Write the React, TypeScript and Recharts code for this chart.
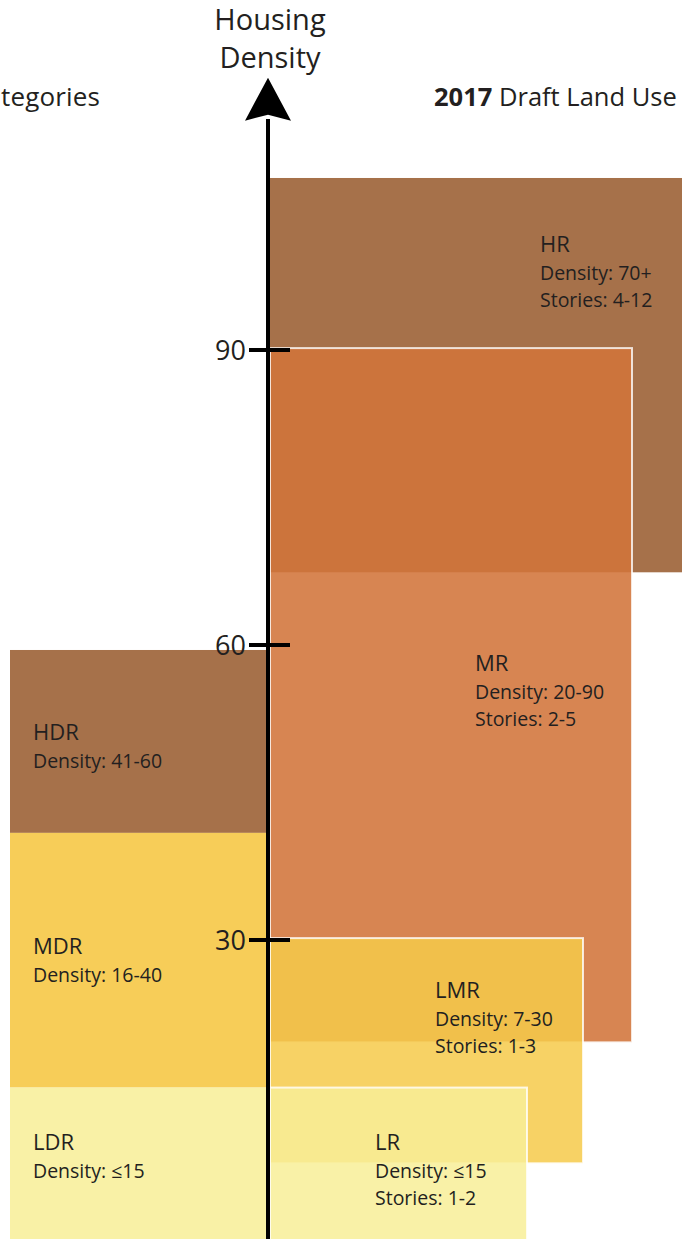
import React from 'react';
import { ComposedChart, XAxis, YAxis, ReferenceArea, ReferenceLine, ReferenceDot } from 'recharts';

// existing categories (left of the axis), density in units/acre
const existingCodes = ['HDR', 'MDR', 'LDR'];
const existingLow = [40.9, 15, -1];
const existingHigh = [59.5, 40.9, 15];
const existingDensity = ['41-60', '16-40', '≤15'];
const existingLeft = -25.8;

// 2017 draft land use categories (right of the axis)
const draftCodes = ['HR', 'MR', 'LMR', 'LR'];
const draftLow = [67.4, 19.6, 7.3, -1];
const draftHigh = [107.5, 90.2, 30.2, 15];
const draftRight = [45, 36.4, 31.5, 25.9];
const draftDensity = ['70+', '20-90', '7-30', '≤15'];
const draftStories = ['4-12', '2-5', '1-3', '1-2'];

const densityTicks = [30, 60, 90];

const FONT = '"Open Sans", sans-serif';
const INK = '#231F20';

const fills: Record<string, string> = {
  HDR: '#A6714A',
  MDR: '#F7CD58',
  LDR: '#F9F1A6',
  HR: '#A6714A',
  MR: '#D1743A',
  LMR: '#F6CA4A',
  LR: '#F8EE98',
};
const opacities: Record<string, number> = { MR: 0.88, LMR: 0.85, LR: 0.85 };
const outlined = ['MR', 'LMR', 'LR'];
// label offset from each block's top-left corner (px)
const labelAt: Record<string, [number, number]> = {
  HDR: [23, 90],
  MDR: [23, 121],
  LDR: [23, 62],
  HR: [270, 74],
  MR: [205, 323],
  LMR: [165, 60],
  LR: [105, 62],
};

const blockShape = (code: string, lines: string[]) => (p: any) => {
  const [dx, dy] = labelAt[code];
  const lx = p.x + dx;
  return (
    <g>
      <rect
        x={p.x}
        y={p.y}
        width={p.width}
        height={p.height}
        fill={fills[code]}
        fillOpacity={opacities[code] ?? 1}
        stroke={outlined.includes(code) ? '#fff' : 'none'}
        strokeWidth={2}
        strokeOpacity={0.8}
      />
      <text x={lx} y={p.y + dy} fontFamily={FONT} fill={INK}>
        <tspan fontSize={22}>{code}</tspan>
        {lines.map((l, i) => (
          <tspan key={l} x={lx} dy={i === 0 ? 28 : 27} fontSize={19.5}>
            {l}
          </tspan>
        ))}
      </text>
    </g>
  );
};

const arrowHead = (p: any) => (
  <path
    d={`M${p.cx},${p.cy - 2} L${p.cx + 23},${p.cy + 41} L${p.cx},${p.cy + 35} L${p.cx - 23},${p.cy + 41} Z`}
    fill="#000"
  />
);

export default function App() {
  return (
    <div style={{ position: 'absolute', left: 0, top: 0, width: 682, height: 1239, overflow: 'hidden', background: '#fff' }}>
      <ComposedChart width={682} height={1239} margin={{ top: 0, right: 0, bottom: 0, left: 0 }} data={[{ x: 0, y: 0 }]}>
        <XAxis type="number" dataKey="x" domain={[-26.8, 41.4]} allowDataOverflow hide />
        <YAxis type="number" dataKey="y" domain={[-0.4, 125.6]} allowDataOverflow hide />

        {existingCodes.map((code, i) => (
          <ReferenceArea
            key={code}
            x1={existingLeft}
            x2={0}
            y1={existingLow[i]}
            y2={existingHigh[i]}
            ifOverflow="hidden"
            shape={blockShape(code, [`Density: ${existingDensity[i]}`])}
          />
        ))}
        {draftCodes.map((code, i) => (
          <ReferenceArea
            key={code}
            x1={0.2}
            x2={draftRight[i]}
            y1={draftLow[i]}
            y2={draftHigh[i]}
            ifOverflow="hidden"
            shape={blockShape(code, [`Density: ${draftDensity[i]}`, `Stories: ${draftStories[i]}`])}
          />
        ))}

        <ReferenceLine
          segment={[{ x: 0, y: -1 }, { x: 0, y: 113.5 }]}
          stroke="#000"
          strokeWidth={4}
          ifOverflow="visible"
        />
        {densityTicks.map((t) => (
          <ReferenceLine
            key={t}
            segment={[{ x: -1.9, y: t }, { x: 2.2, y: t }]}
            stroke="#000"
            strokeWidth={4}
            label={{ value: String(t), position: 'left', offset: 3, fontSize: 27, fill: INK, fontFamily: FONT }}
          />
        ))}
        <ReferenceDot x={0} y={117.5} r={1} shape={arrowHead} />

        <text x={270} y={30} textAnchor="middle" fontFamily={FONT} fontSize={29} fill={INK}>Housing</text>
        <text x={270} y={68} textAnchor="middle" fontFamily={FONT} fontSize={29} fill={INK}>Density</text>
        <text x={1} y={106} fontFamily={FONT} fontSize={26} fill={INK} textLength={99} lengthAdjust="spacing">tegories</text>
        <text x={434} y={106} fontFamily={FONT} fontSize={25.5} fill={INK}>
          <tspan fontWeight="bold">2017</tspan> Draft Land Use
        </text>
      </ComposedChart>
    </div>
  );
}
